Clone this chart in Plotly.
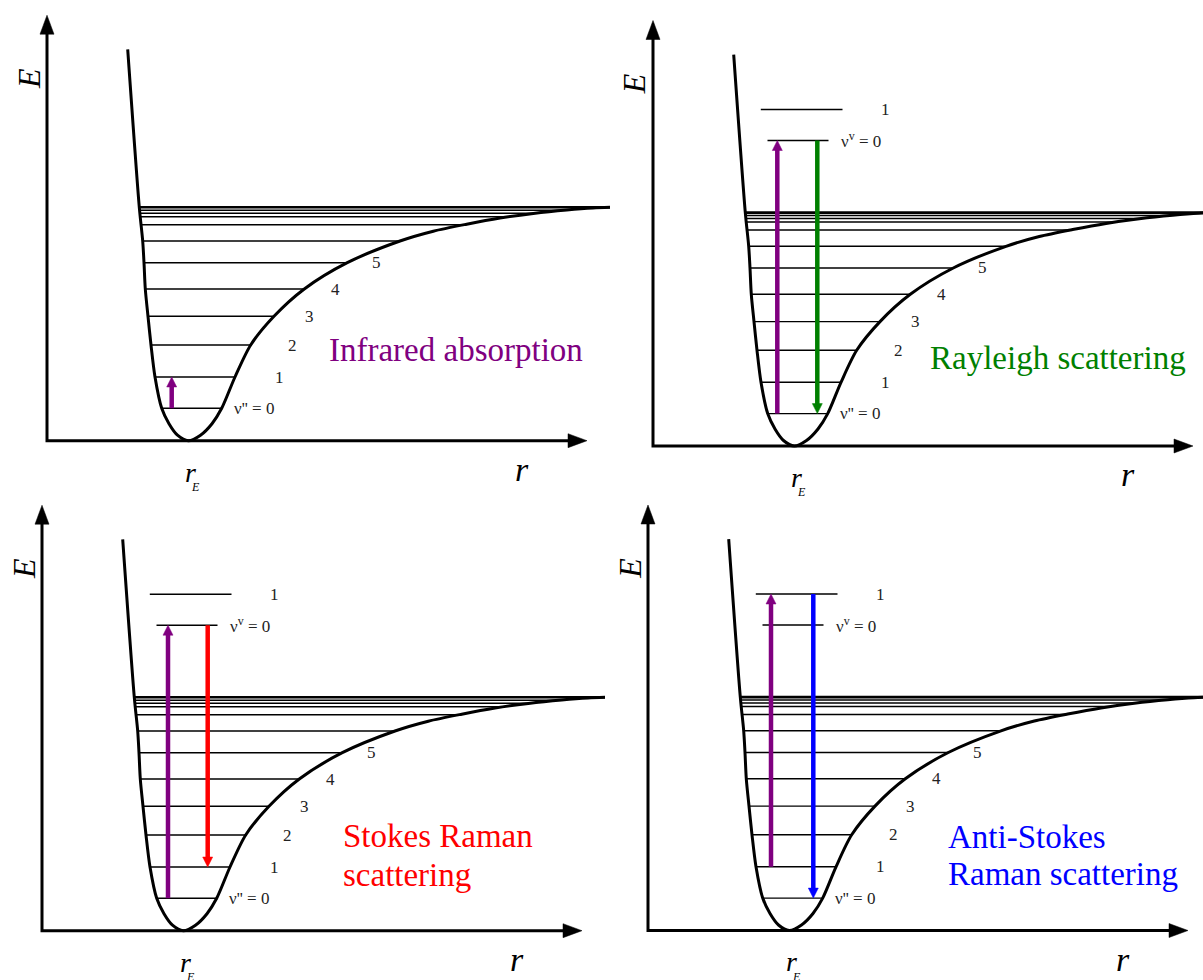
import numpy as np
import plotly.graph_objects as go

W, H = 1203, 980

# ---------------- data (arbitrary units: r = internuclear distance, E = energy) -------------
# potential-energy curve (left wall -> minimum -> dissociation limit)
curve_r = [80.7, 92.3, 95.7, 97.0, 98.3, 101.0, 104.0, 108.0, 114.7, 122.0, 130.5, 141.3,
           153.5, 165.0, 174.7, 188.0, 203.7, 227.0, 257.3, 300.3, 353.0, 386.3, 419.7,
           453.0, 486.3, 519.7, 546.0, 563.0]
curve_E = [391.4, 233.4, 199.7, 178.0, 151.7, 124.4, 95.7, 63.7, 32.4, 17.0, 5.5, 0.0,
           5.5, 17.0, 32.4, 63.7, 95.7, 124.4, 151.7, 178.0, 199.7, 209.5, 216.5,
           222.6, 227.3, 230.8, 232.8, 233.4]
r_E_value = 141.3

# vibrational levels of the ground state
level_E = [32.4, 63.7, 95.7, 124.4, 151.7, 178.0, 199.7, 216.0, 224.0, 227.5, 230.5, 233.4]
level_labels = ["\u03bd'' = 0", "1", "2", "3", "4", "5"]
level_label_r = [207.0, 232.0, 245.0, 262.5, 288.5, 329.5]

# virtual levels
virtual_E = [305.5, 336.5]
virtual_r_left = [114.5, 107.8]
virtual_r_right = [175.5, 189.5]
virtual_labels = ["\u03bd<sup>v</sup> = 0", "1"]
virtual_label_r = [208.0, 232.0]

# panels
titles = [["Infrared absorption"], ["Rayleigh scattering"],
          ["Stokes Raman", "scattering"], ["Anti-Stokes", "Raman scattering"]]
title_r = [280.0, 275.0, 299.0, 298.0]
title_E = [[90.7], [88.0], [94.7, 55.7], [94.0, 57.0]]
title_colors = ["#800080", "#008000", "#ff0000", "#0000ff"]
show_virtual = [False, True, True, True]

# transitions per panel: (r, E_start, E_end, colour)
PURPLE, GREEN, RED, BLUE = "#800080", "#008000", "#ff0000", "#0000ff"
transitions = [
    [(124.7, 32.4, 63.7, PURPLE)],
    [(124.3, 32.4, 305.5, PURPLE), (164.3, 305.5, 32.4, GREEN)],
    [(126.0, 32.4, 305.5, PURPLE), (165.7, 305.5, 63.7, RED)],
    [(123.0, 63.7, 336.5, PURPLE), (165.3, 336.5, 32.4, BLUE)],
]

# ---------------- layout constants ----------------
panel_origin_px = [(47, 440.7), (653, 446.0), (42, 930.7), (648, 930.5)]
E_AXIS_TOP = 425.5
R_AXIS_END = 540.0
AX_HEAD_L, AX_HEAD_W = 19, 14
TR_HEAD_L, TR_HEAD_W = 10, 10
FONT = "Liberation Serif"

# ---------------- helpers ----------------
cr = np.array(curve_r)
cE = np.array(curve_E)
imin = int(np.argmin(cE))
left_r, left_E = cr[:imin + 1][::-1], cE[:imin + 1][::-1]
right_r, right_E = cr[imin:], cE[imin:]


def level_span(e):
    return float(np.interp(e, left_E, left_r)), float(np.interp(e, right_E, right_r))


def tri(tx, ty, ux, uy, L, w):
    bx, by = tx - ux * L, ty - uy * L
    px, py = -uy, ux
    return ([tx, bx + px * w / 2, bx - px * w / 2, tx],
            [ty, by + py * w / 2, by - py * w / 2, ty])


fig = go.Figure()
annotations = []
layout_axes = {}

for k in range(4):
    cx, cy = panel_origin_px[k]
    n = "" if k == 0 else str(k + 1)
    xr = [-30, min(575, W - cx)]
    yr = [-min(55, H - cy), min(432, cy)]
    xdom = [(cx + xr[0]) / W, (cx + xr[1]) / W]
    ydom = [(H - (cy - yr[0])) / H, (H - (cy - yr[1])) / H]
    layout_axes["xaxis" + n] = dict(domain=xdom, range=xr, visible=False, fixedrange=True,
                                    anchor="y" + n)
    layout_axes["yaxis" + n] = dict(domain=ydom, range=yr, visible=False, fixedrange=True,
                                    anchor="x" + n)
    xa, ya = "x" + n, "y" + n

    def add(tr):
        tr.update(xaxis=xa, yaxis=ya, showlegend=False, hoverinfo="skip")
        fig.add_trace(tr)

    # axes
    add(go.Scatter(x=[0, 0, R_AXIS_END - 8], y=[E_AXIS_TOP - 8, 0, 0], mode="lines",
                   line=dict(color="black", width=3)))
    hx, hy = tri(0, E_AXIS_TOP, 0, 1, AX_HEAD_L, AX_HEAD_W)
    add(go.Scatter(x=hx, y=hy, mode="lines", fill="toself", fillcolor="black",
                   line=dict(color="black", width=0.5)))
    hx, hy = tri(R_AXIS_END, 0, 1, 0, AX_HEAD_L, AX_HEAD_W)
    add(go.Scatter(x=hx, y=hy, mode="lines", fill="toself", fillcolor="black",
                   line=dict(color="black", width=0.5)))

    # vibrational levels
    lx, ly = [], []
    for e in level_E[:-1]:
        a, b = level_span(e)
        lx += [a, b, None]
        ly += [e, e, None]
    add(go.Scatter(x=lx, y=ly, mode="lines", line=dict(color="black", width=1.4)))
    a, b = level_span(level_E[-1])
    add(go.Scatter(x=[a, b], y=[level_E[-1]] * 2, mode="lines",
                   line=dict(color="black", width=2.6)))

    # virtual levels
    if show_virtual[k]:
        vx, vy = [], []
        for e, a, b in zip(virtual_E, virtual_r_left, virtual_r_right):
            vx += [a, b, None]
            vy += [e, e, None]
        add(go.Scatter(x=vx, y=vy, mode="lines", line=dict(color="black", width=1.4)))
        for lab, r, e in zip(virtual_labels, virtual_label_r, virtual_E):
            annotations.append(dict(x=r, y=e, xref=xa, yref=ya, text=lab, showarrow=False,
                                    font=dict(family=FONT, size=17, color="#222")))

    # potential curve
    add(go.Scatter(x=curve_r, y=curve_E, mode="lines",
                   line=dict(color="black", width=3, shape="spline", smoothing=0.8)))

    # transitions
    for (r, e0, e1, col) in transitions[k]:
        d = 1 if e1 > e0 else -1
        add(go.Scatter(x=[r, r], y=[e0, e1 - d * (TR_HEAD_L - 1)], mode="lines",
                       line=dict(color=col, width=4.5)))
        hx, hy = tri(r, e1, 0, d, TR_HEAD_L, TR_HEAD_W)
        add(go.Scatter(x=hx, y=hy, mode="lines", fill="toself", fillcolor=col,
                       line=dict(color=col, width=0.5)))

    # level labels
    for lab, r, e in zip(level_labels, level_label_r, level_E):
        annotations.append(dict(x=r, y=e, xref=xa, yref=ya, text=lab, showarrow=False,
                                font=dict(family=FONT, size=17, color="#222")))

    # titles
    for line, e in zip(titles[k], title_E[k]):
        annotations.append(dict(x=title_r[k], y=e, xref=xa, yref=ya, text=line,
                                showarrow=False, xanchor="left",
                                font=dict(family=FONT, size=33, color=title_colors[k])))

    # axis labels
    annotations.append(dict(x=-18.7, y=362, xref=xa, yref=ya, text="<i>E</i>", textangle=-90,
                            showarrow=False, font=dict(family=FONT, size=32, color="black")))
    annotations.append(dict(x=474.5, y=-28.5, xref=xa, yref=ya, text="<i>r</i>",
                            showarrow=False, font=dict(family=FONT, size=34, color="black")))
    annotations.append(dict(x=r_E_value + 1.7, y=-31.3, xref=xa, yref=ya, text="<i>r</i>",
                            showarrow=False, font=dict(family=FONT, size=28, color="black")))
    annotations.append(dict(x=r_E_value + 7.4, y=-46.5, xref=xa, yref=ya, text="<i>E</i>",
                            showarrow=False, font=dict(family=FONT, size=12, color="black")))

fig.update_layout(width=W, height=H, margin=dict(l=0, r=0, t=0, b=0),
                  paper_bgcolor="white", plot_bgcolor="white", showlegend=False,
                  hovermode=False, annotations=annotations, **layout_axes)

fig.write_html("out.html")
